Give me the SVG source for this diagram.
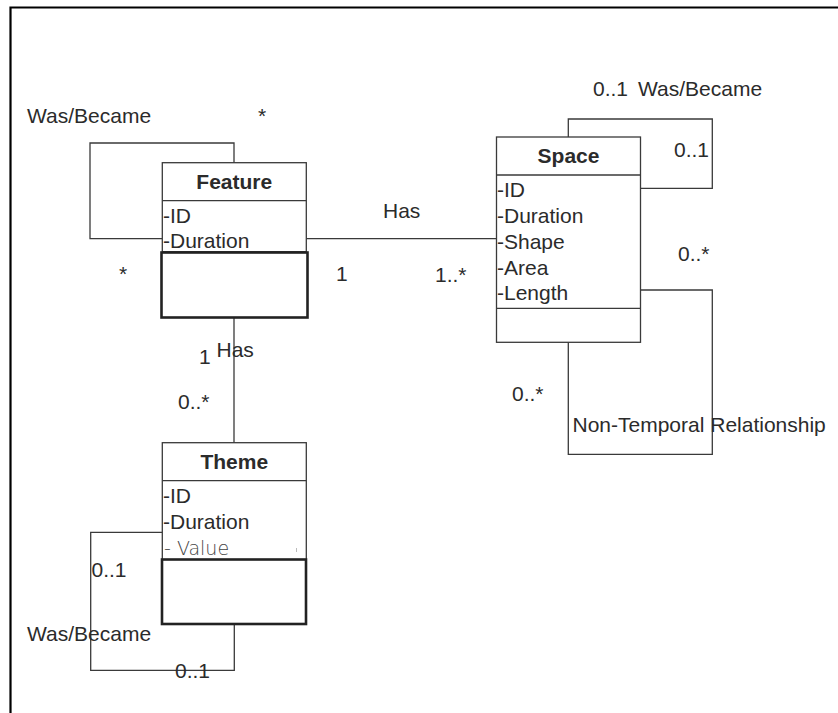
<svg xmlns="http://www.w3.org/2000/svg" width="838" height="713" viewBox="0 0 838 713">
<style>
text{font-family:"Liberation Sans",Arial,sans-serif;font-size:21px;fill:#2b2b2b}
.t{font-weight:bold;text-anchor:middle}
.box{fill:#fff;stroke:#3a3a3a;stroke-width:1.3}
.thick{fill:#fff;stroke:#222;stroke-width:2.6}
.ln{fill:none;stroke:#3a3a3a;stroke-width:1.3}
.val{font-family:"DejaVu Sans",sans-serif;font-size:19px;fill:#444;font-weight:300}
</style>
<rect width="838" height="713" fill="#fff"/>
<path d="M10.5,713 V7.5 H838" fill="none" stroke="#000" stroke-width="2.2"/>
<g id="connectors">
  <path class="ln" d="M234,163 V143 H90 V238.7 H162"/>
  <path class="ln" d="M306,238.7 H496.5"/>
  <path class="ln" d="M234,317 V443"/>
  <path class="ln" d="M568.3,137 V119 H712.3 V188.3 H640"/>
  <path class="ln" d="M640,290 H712.3 V454.3 H568.3 V342"/>
  <path class="ln" d="M162,532.3 H90.7 V670.3 H234.3 V624"/>
</g>
<g id="labels">
  <text x="27" y="123">Was/Became</text>
  <text x="258" y="123">*</text>
  <text x="119" y="281">*</text>
  <text x="383" y="218">Has</text>
  <text x="336" y="281">1</text>
  <text x="435" y="282">1..*</text>
  <text x="593" y="96">0..1</text>
  <text x="638" y="96">Was/Became</text>
  <text x="674" y="157">0..1</text>
  <text x="678" y="261">0..*</text>
  <text x="512" y="401">0..*</text>
  <text x="572.5" y="432">Non-Temporal Relationship</text>
  <text x="199" y="364">1</text>
  <text x="216.5" y="357">Has</text>
  <text x="178" y="409">0..*</text>
  <text x="91.5" y="577">0..1</text>
  <text x="27" y="641">Was/Became</text>
  <text x="175" y="678">0..1</text>
</g>
<g id="feature">
  <rect class="box" x="162.3" y="162.7" width="144" height="89"/>
  <line class="ln" x1="162.3" y1="200.7" x2="306.3" y2="200.7"/>
  <text class="t" x="234.3" y="189">Feature</text>
  <text x="163" y="223">-ID</text>
  <text x="163" y="248">-Duration</text>
  <rect class="thick" x="161.5" y="252.5" width="146" height="65"/>
</g>
<g id="space">
  <rect class="box" x="496.5" y="137" width="144" height="205.3"/>
  <line class="ln" x1="496.5" y1="175" x2="640.5" y2="175"/>
  <line class="ln" x1="496.5" y1="308.3" x2="640.5" y2="308.3"/>
  <text class="t" x="568.5" y="163">Space</text>
  <text x="497" y="197">-ID</text>
  <text x="497" y="223">-Duration</text>
  <text x="497" y="249">-Shape</text>
  <text x="497" y="275">-Area</text>
  <text x="497" y="300">-Length</text>
</g>
<g id="theme">
  <rect class="box" x="162.3" y="442.7" width="144" height="117"/>
  <line class="ln" x1="162.3" y1="480.7" x2="306.3" y2="480.7"/>
  <text class="t" x="234.3" y="469">Theme</text>
  <text x="163" y="503">-ID</text>
  <text x="163" y="529">-Duration</text>
  <text class="val" x="164" y="555">- Value</text>
  <line x1="296.5" y1="548" x2="296.5" y2="552" stroke="#bbb" stroke-width="1"/>
  <rect class="thick" x="162" y="559.5" width="144" height="64.5"/>
</g>
</svg>
